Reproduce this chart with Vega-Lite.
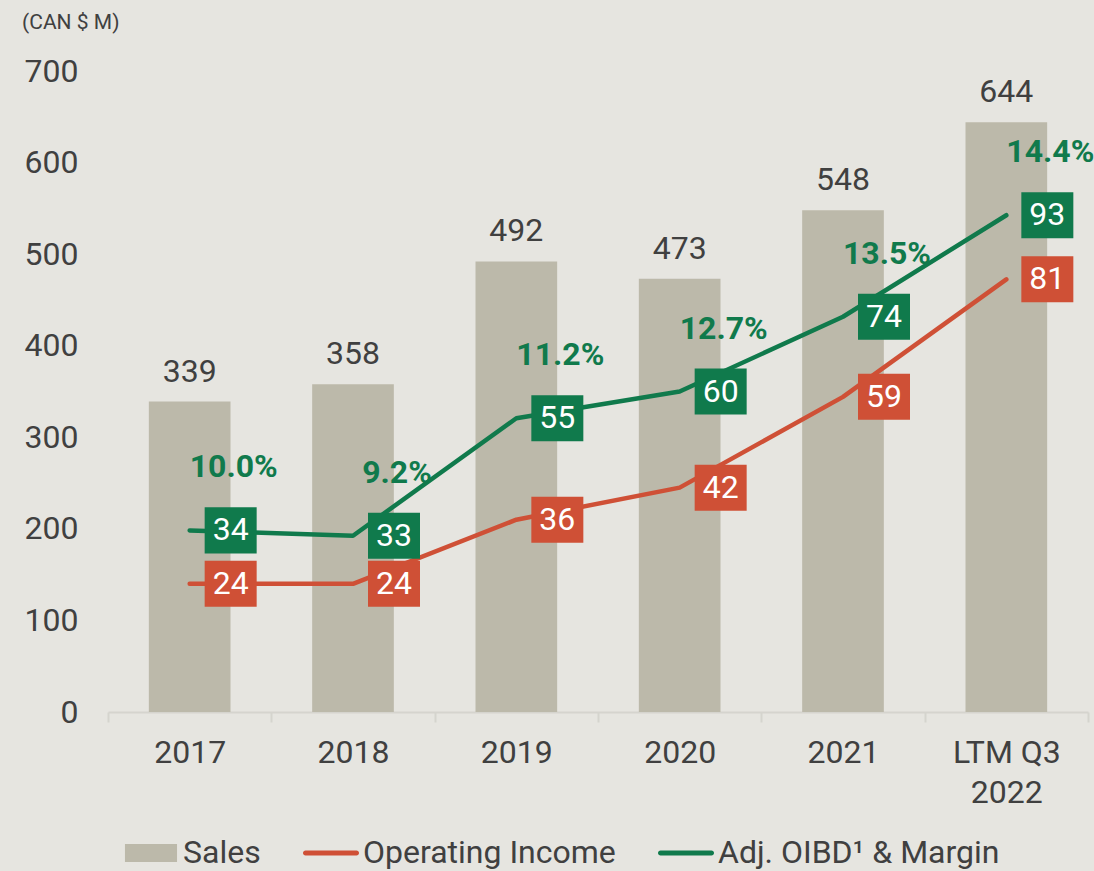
{
  "$schema": "https://vega.github.io/schema/vega-lite/v6.json",
  "width": 980,
  "height": 641,
  "autosize": {"type": "none"},
  "padding": {"left": 108, "top": 71, "right": 6, "bottom": 159},
  "background": "#e6e5e0",
  "title": {
    "text": "(CAN $ M)",
    "anchor": "start",
    "frame": "bounds",
    "fontSize": 21,
    "fontWeight": "normal",
    "color": "#404040",
    "font": "Roboto",
    "dx": -2,
    "dy": -18
  },
  "datasets": {
    "sales": [
      {"year": "2017", "series": "Sales", "sales": 339},
      {"year": "2018", "series": "Sales", "sales": 358},
      {"year": "2019", "series": "Sales", "sales": 492},
      {"year": "2020", "series": "Sales", "sales": 473},
      {"year": "2021", "series": "Sales", "sales": 548},
      {"year": "LTM Q3 2022", "series": "Sales", "sales": 644}
    ],
    "lines": [
      {"year": "2017", "series": "Operating Income", "value": 24},
      {"year": "2018", "series": "Operating Income", "value": 24},
      {"year": "2019", "series": "Operating Income", "value": 36},
      {"year": "2020", "series": "Operating Income", "value": 42},
      {"year": "2021", "series": "Operating Income", "value": 59},
      {"year": "LTM Q3 2022", "series": "Operating Income", "value": 81},
      {"year": "2017", "series": "Adj. OIBD¹ & Margin", "value": 34, "margin": "10.0%"},
      {"year": "2018", "series": "Adj. OIBD¹ & Margin", "value": 33, "margin": "9.2%"},
      {"year": "2019", "series": "Adj. OIBD¹ & Margin", "value": 55, "margin": "11.2%"},
      {"year": "2020", "series": "Adj. OIBD¹ & Margin", "value": 60, "margin": "12.7%"},
      {"year": "2021", "series": "Adj. OIBD¹ & Margin", "value": 74, "margin": "13.5%"},
      {"year": "LTM Q3 2022", "series": "Adj. OIBD¹ & Margin", "value": 93, "margin": "14.4%"}
    ]
  },
  "encoding": {
    "x": {
      "field": "year",
      "type": "nominal",
      "sort": null,
      "scale": {"paddingInner": 0, "paddingOuter": 0},
      "axis": {
        "title": null,
        "labelAngle": 0,
        "labelFontSize": 32,
        "labelColor": "#404040",
        "labelFont": "Roboto",
        "labelPadding": 15,
        "labelLineHeight": 40,
        "labelBaseline": "top",
        "labelExpr": "datum.label == 'LTM Q3 2022' ? ['LTM Q3', '2022'] : datum.label",
        "domainColor": "#d5d4ce",
        "domainWidth": 2,
        "tickColor": "#d5d4ce",
        "tickWidth": 2,
        "tickSize": 10,
        "tickBand": "extent",
        "grid": false
      }
    }
  },
  "layer": [
    {
      "data": {"name": "sales"},
      "encoding": {
        "y": {
          "field": "sales",
          "type": "quantitative",
          "scale": {"domain": [0, 700], "nice": false},
          "axis": {
            "title": null,
            "values": [0, 100, 200, 300, 400, 500, 600, 700],
            "domain": false,
            "ticks": false,
            "tickSize": 0,
            "grid": false,
            "labelFontSize": 32,
            "labelColor": "#404040",
            "labelFont": "Roboto",
            "labelPadding": 30
          }
        }
      },
      "layer": [
        {
          "mark": {"type": "bar", "width": {"band": 0.5}},
          "encoding": {
            "color": {
              "field": "series",
              "type": "nominal",
              "scale": {
                "domain": ["Sales", "Operating Income", "Adj. OIBD¹ & Margin"],
                "range": ["#bcb9aa", "#cf5036", "#107a4c"]
              },
              "legend": {
                "title": null,
                "orient": "none",
                "direction": "horizontal",
                "legendX": 15,
                "legendY": 754,
                "padding": 0,
                "symbolSize": 3136,
                "labelFontSize": 32,
                "labelFont": "Roboto",
                "labelColor": "#404040",
                "labelOffset": 4,
                "labelLimit": 500,
                "columnPadding": 42,
                "encode": {
                  "symbols": {
                    "update": {
                      "shape": {"signal": "datum.value === 'Sales' ? 'M-0.93,-0.32H0.93V0.32H-0.93Z' : 'M-0.91,-0.09H0.91A0.09,0.09 0 0 1 0.91,0.09H-0.91A0.09,0.09 0 0 1 -0.91,-0.09Z'"},
                      "fill": {"scale": "color", "field": "value"},
                      "fillOpacity": {"value": 1},
                      "stroke": {"value": "transparent"},
                      "strokeWidth": {"value": 0},
                      "opacity": {"value": 1}
                    }
                  }
                }
              }
            }
          }
        },
        {
          "mark": {"type": "text", "dy": -30, "fontSize": 32, "font": "Roboto", "color": "#404040", "baseline": "middle"},
          "encoding": {"text": {"field": "sales", "type": "quantitative"}}
        }
      ]
    },
    {
      "data": {"name": "lines"},
      "encoding": {
        "y": {
          "field": "value",
          "type": "quantitative",
          "scale": {"domain": [0, 120], "nice": false},
          "axis": null
        }
      },
      "layer": [
        {
          "mark": {"type": "line", "strokeWidth": 4.5, "strokeCap": "round", "strokeJoin": "round"},
          "encoding": {
            "color": {"field": "series", "type": "nominal"},
            "detail": {"field": "series"}
          }
        },
        {
          "mark": {"type": "point", "shape": "M-1,-0.885H1V0.885H-1Z", "size": 2704, "filled": true, "opacity": 1, "xOffset": 41},
          "encoding": {
            "color": {"field": "series", "type": "nominal"}
          }
        },
        {
          "mark": {"type": "text", "dx": 41, "fontSize": 32, "font": "Roboto", "color": "#ffffff", "baseline": "middle"},
          "encoding": {"text": {"field": "value", "type": "quantitative"}}
        },
        {
          "transform": [{"filter": "datum.margin != null"}],
          "mark": {"type": "text", "dx": 44, "dy": -63, "fontSize": 32, "font": "Roboto", "fontWeight": "bold", "color": "#107a4c", "baseline": "middle"},
          "encoding": {"text": {"field": "margin", "type": "nominal"}}
        }
      ]
    }
  ],
  "resolve": {"scale": {"y": "independent"}},
  "config": {
    "view": {"stroke": null},
    "font": "Roboto"
  }
}
